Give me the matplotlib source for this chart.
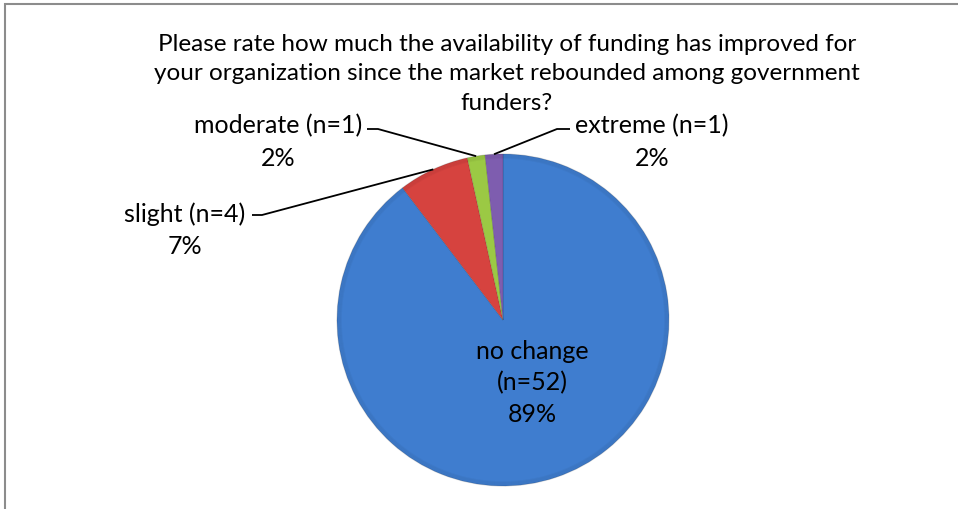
import numpy as np
import matplotlib.pyplot as plt
from matplotlib.patches import Rectangle

categories = ['no change', 'slight', 'moderate', 'extreme']
counts = [52, 4, 1, 1]
pct_labels = ['89%', '7%', '2%', '2%']
colors = ['#3F7DCF', '#D6433F', '#9BC944', '#7E5DAF']
title = ('Please rate how much the availability of funding has improved for\n'
         'your organization since the market rebounded among government\n'
         'funders?')

W, H = 958, 510
plt.rcParams['font.family'] = ['Lato', 'DejaVu Sans']

fig = plt.figure(figsize=(W / 100, H / 100), dpi=100)
ax = fig.add_axes([0, 0, 1, 1])

# chart frame (cropped screenshot: only top and left edges visible)
ax.add_patch(Rectangle((5, -20), W + 50, H - 5 + 20, fill=False,
                       edgecolor='#8c8c8c', linewidth=1.5))

cx, cy, r = 503, H - 321, 166
wedges, _ = ax.pie(counts, colors=colors, startangle=90, counterclock=False,
                   center=(cx, cy), radius=r, frame=True,
                   wedgeprops=dict(edgecolor=(0, 0, 0, 0.15), linewidth=0.6))
ax.set_xlim(0, W)
ax.set_ylim(0, H)
ax.set_aspect('equal')
ax.axis('off')

# soft rim shading like the Excel bevel
for k in range(5):
    circ = plt.Circle((cx, cy), r - k * 1.0, fill=False,
                      edgecolor='black', alpha=0.03, linewidth=1.2)
    ax.add_patch(circ)

fs = 17.5
ax.text(507, H - 74, title, ha='center', va='center', fontsize=fs,
        linespacing=1.52, color='black')

# no change label inside the pie
ax.text(532, H - 383, f'{categories[0]}\n(n={counts[0]})\n{pct_labels[0]}',
        ha='center', va='center', fontsize=18, linespacing=1.45)

# outside labels with leader lines
outside = {
    1: dict(xy=(185, H - 230), line=[(252, H - 216), (262, H - 216)]),
    2: dict(xy=(278, H - 142), line=[(367, H - 130), (378, H - 130)]),
    3: dict(xy=(652, H - 142), line=[(570, H - 130), (557, H - 130)]),
}
for i, o in outside.items():
    ax.text(o['xy'][0], o['xy'][1],
            f'{categories[i]} (n={counts[i]})\n{pct_labels[i]}',
            ha='center', va='center', fontsize=18, linespacing=1.5)
    w = wedges[i]
    ang = np.deg2rad((w.theta1 + w.theta2) / 2)
    ex, ey = cx + r * np.cos(ang), cy + r * np.sin(ang)
    (x0, y0), (x1, y1) = o['line']
    ax.plot([x0, x1, ex], [y0, y1, ey], color='black', linewidth=1.3,
            solid_capstyle='butt')

fig.savefig('out.png', dpi=100)
